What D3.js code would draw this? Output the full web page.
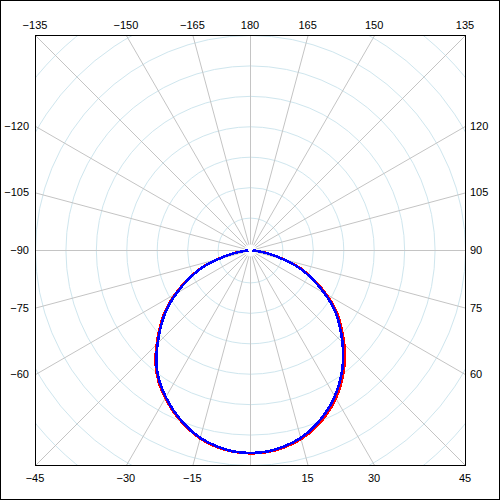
<!DOCTYPE html>
<html lang="en">
<head>
<meta charset="utf-8">
<title>Polar pattern</title>
<script type="text/javascript" src="https://cdnjs.cloudflare.com/ajax/libs/d3/7.8.5/d3.min.js"></script>
<style>
body { margin: 0; background: #fff; }
svg { display: block; }
.frame { fill: none; stroke: #000; stroke-width: 1; shape-rendering: crispEdges; }
.ring { fill: none; stroke: #cfe6ee; stroke-width: 1; }
.spoke { stroke: #c4c4c4; stroke-width: 1; }
.label { font-family: "Liberation Sans", Arial, sans-serif; font-size: 11px; fill: #000; }
.trace { fill: none; stroke-width: 2.6; shape-rendering: crispEdges; stroke-linejoin: round; }
</style>
</head>
<body>

<div id="chart"></div>

<script type="text/javascript">

// angles in degrees, 0 points down, 90 to the right
var spokeAngles = [-180, -165, -150, -135, -120, -105, -90, -75, -60, -45, -30, -15,
                   0, 15, 30, 45, 60, 75, 90, 105, 120, 135, 150, 165];
var topLabels = [-135, -150, -165, 180, 165, 150, 135];
var leftLabels = [-120, -105, -90, -75, -60];
var rightLabels = [120, 105, 90, 75, 60];
var bottomLabels = [-45, -30, -15, 15, 30, 45];

var ringValues = [10, 20, 30, 40, 50, 60, 70, 80, 90];

var traceAngles = [-90, -85, -80, -75, -70, -65, -60, -55, -50, -45, -40, -35, -30, -25, -20, -15, -10, -5,
                   0, 5, 10, 15, 20, 25, 30, 35, 40, 45, 50, 55, 60, 65, 70, 75, 80, 85, 90];
var redValues = [0, 1.7, 5.6, 10.8, 17.0, 22.3, 27.8, 33.3, 38.1, 42.9, 47.9, 52.0, 55.3, 58.4, 61.0, 63.3, 64.8, 65.7,
                 66.0, 65.8, 64.9, 63.5, 61.4, 58.7, 55.5, 51.7, 47.5, 42.9, 38.2, 33.6, 28.0, 22.5, 17.2, 10.9, 5.6, 1.7, 0];
var blueValues = [0, 1.6, 5.4, 10.5, 16.8, 22.0, 27.4, 32.9, 37.7, 42.5, 47.5, 51.6, 55.0, 58.1, 60.8, 63.1, 64.6, 65.6,
                  65.9, 65.6, 64.6, 63.1, 60.8, 58.0, 54.7, 50.9, 46.7, 42.1, 37.5, 32.9, 27.4, 22.0, 16.8, 10.5, 5.4, 1.6, 0];

var width = 500,
    height = 500,
    cx = 250,
    cy = 250,
    half = 215;

var rScale = d3.scaleLinear().domain([0, 70]).range([2, 215]);

var svg = d3.select("#chart").append("svg")
    .attr("width", width)
    .attr("height", height);

svg.append("rect")
    .attr("class", "frame")
    .attr("x", 0.5).attr("y", 0.5)
    .attr("width", width - 1).attr("height", height - 1);

svg.append("clipPath")
    .attr("id", "plotClip")
    .append("rect")
        .attr("x", cx - half).attr("y", cy - half)
        .attr("width", 2 * half).attr("height", 2 * half);

var plot = svg.append("g")
    .attr("clip-path", "url(#plotClip)");

var center = plot.append("g")
    .attr("transform", "translate(" + (cx + 0.5) + "," + (cy + 0.5) + ")");

function rad(deg) { return deg * Math.PI / 180; }

// point on the frame edge along an angle
function edgePoint(deg) {
    var s = Math.sin(rad(deg)), c = Math.cos(rad(deg));
    var t = half / Math.max(Math.abs(s), Math.abs(c));
    return {x: s * t, y: c * t};
}

center.selectAll(".ring")
    .data(ringValues)
    .enter().append("circle")
        .attr("class", "ring")
        .attr("r", function(d) { return rScale(d); });

center.selectAll(".spoke")
    .data(spokeAngles)
    .enter().append("line")
        .attr("class", "spoke")
        .attr("x1", function(d) { return Math.sin(rad(d)) * 6; })
        .attr("y1", function(d) { return Math.cos(rad(d)) * 6; })
        .attr("x2", function(d) { return edgePoint(d).x; })
        .attr("y2", function(d) { return edgePoint(d).y; });

var line = d3.lineRadial()
    .angle(function(d) { return Math.PI - rad(d[0]); })
    .radius(function(d) { return rScale(d[1]); })
    .curve(d3.curveCatmullRom);

center.append("path")
    .attr("class", "trace")
    .attr("stroke", "#ff0000")
    .attr("d", line(d3.zip(traceAngles, redValues)));

center.append("path")
    .attr("class", "trace")
    .attr("stroke", "#0000ff")
    .attr("d", line(d3.zip(traceAngles, blueValues)));

svg.append("rect")
    .attr("class", "frame")
    .attr("x", cx - half + 0.5).attr("y", cy - half + 0.5)
    .attr("width", 2 * half).attr("height", 2 * half);

var fmt = d3.format("d");

svg.selectAll(".top")
    .data(topLabels)
    .enter().append("text")
        .attr("class", "label")
        .attr("text-anchor", "middle")
        .attr("x", function(d) { return cx + edgePoint(d).x; })
        .attr("y", 29)
        .text(fmt);

svg.selectAll(".bottom")
    .data(bottomLabels)
    .enter().append("text")
        .attr("class", "label")
        .attr("text-anchor", "middle")
        .attr("x", function(d) { return cx + edgePoint(d).x; })
        .attr("y", 482)
        .text(fmt);

svg.selectAll(".left")
    .data(leftLabels)
    .enter().append("text")
        .attr("class", "label")
        .attr("text-anchor", "end")
        .attr("x", 29)
        .attr("y", function(d) { return cy + edgePoint(d).y + 4; })
        .text(fmt);

svg.selectAll(".right")
    .data(rightLabels)
    .enter().append("text")
        .attr("class", "label")
        .attr("text-anchor", "start")
        .attr("x", 470)
        .attr("y", function(d) { return cy + edgePoint(d).y + 4; })
        .text(fmt);

</script>

</body>
</html>
